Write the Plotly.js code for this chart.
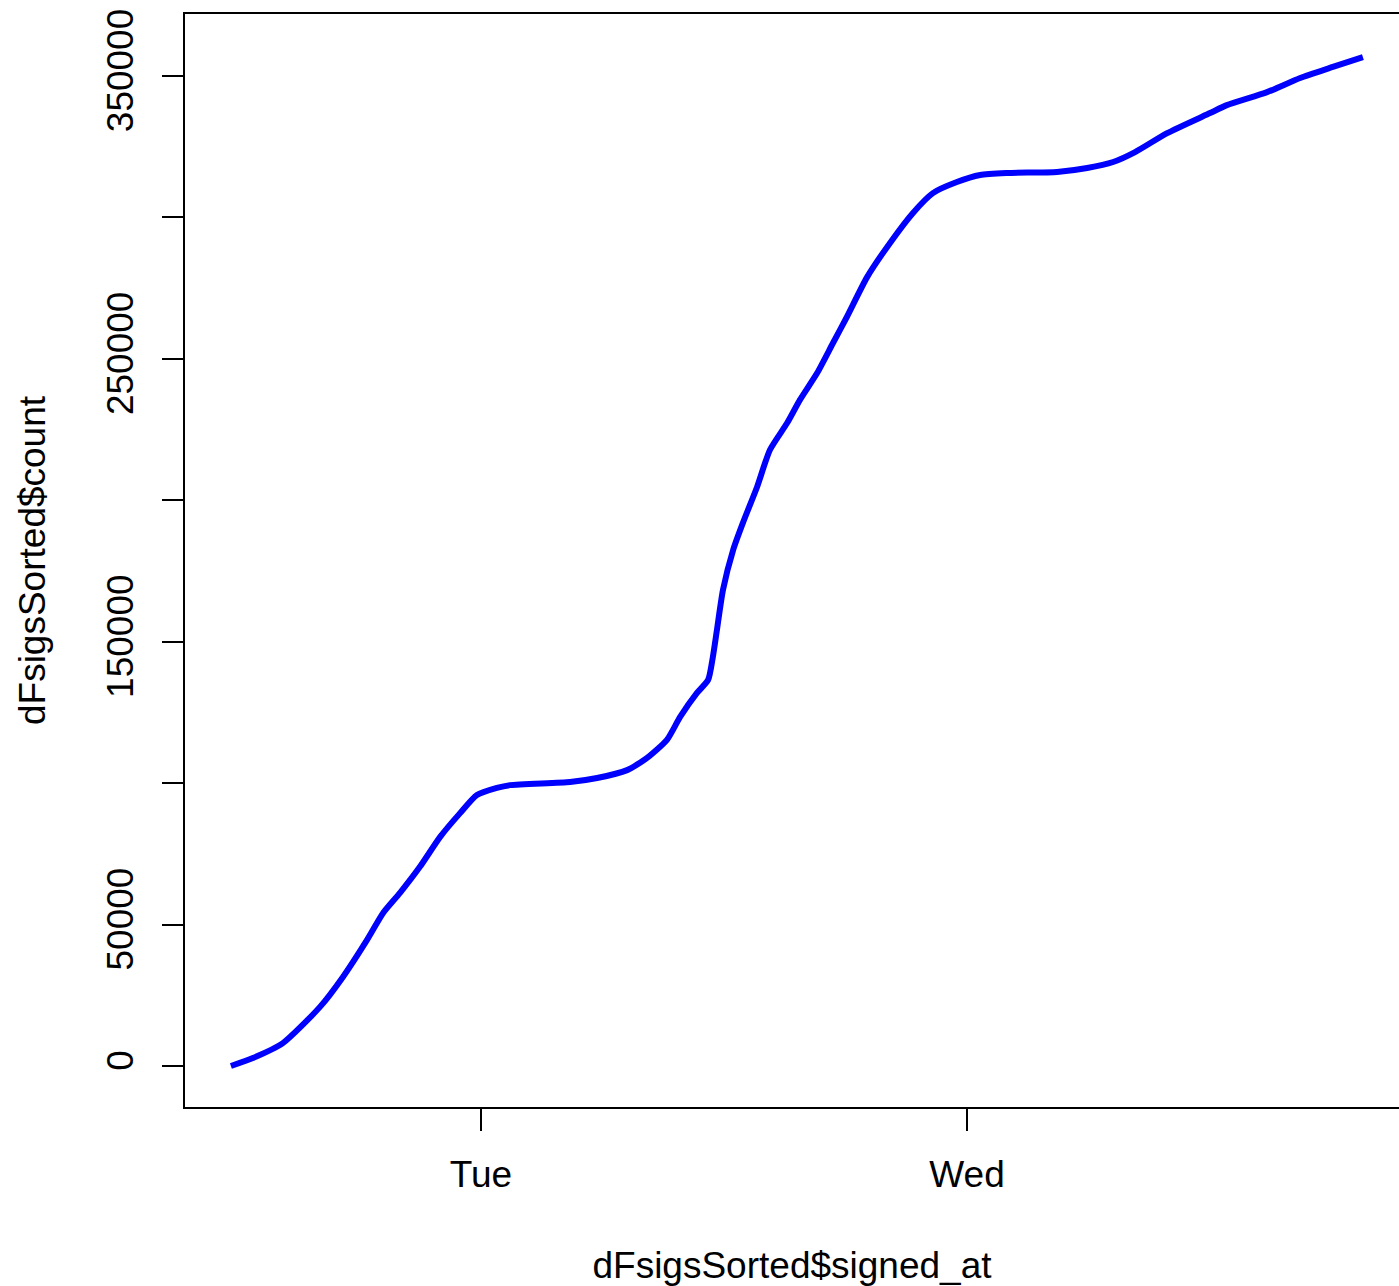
<!DOCTYPE html>
<html>
<head>
<meta charset="utf-8">
<script src="https://cdn.plot.ly/plotly-3.0.1.min.js"></script>
<style>html,body{margin:0;padding:0;background:#fff;}#chart{width:1399px;height:1286px;}</style>
</head>
<body>
<div id="chart"></div>
<script>
// signed_at timestamps (Mon -> Wed)
const signedAt = [
  '2016-06-27 11:39','2016-06-27 12:44','2016-06-27 14:13','2016-06-27 16:03','2016-06-27 17:11',
  '2016-06-27 18:22','2016-06-27 19:10','2016-06-27 20:00','2016-06-27 20:59','2016-06-27 21:59',
  '2016-06-27 22:58','2016-06-27 23:48','2016-06-28 00:47','2016-06-28 01:26','2016-06-28 04:24',
  '2016-06-28 05:44','2016-06-28 07:13','2016-06-28 08:12','2016-06-28 09:11','2016-06-28 09:50',
  '2016-06-28 10:40','2016-06-28 11:13','2016-06-28 11:27','2016-06-28 11:39','2016-06-28 11:57',
  '2016-06-28 12:27','2016-06-28 12:56','2016-06-28 13:38','2016-06-28 14:16','2016-06-28 15:07',
  '2016-06-28 15:45','2016-06-28 16:36','2016-06-28 17:23','2016-06-28 18:04','2016-06-28 19:04',
  '2016-06-28 20:12','2016-06-28 21:20','2016-06-28 22:19','2016-06-28 23:30','2016-06-29 00:39',
  '2016-06-29 01:59','2016-06-29 04:27','2016-06-29 05:56','2016-06-29 07:13','2016-06-29 08:18',
  '2016-06-29 09:53','2016-06-29 12:00','2016-06-29 12:50','2016-06-29 14:49','2016-06-29 16:27',
  '2016-06-29 18:04','2016-06-29 19:33'
];
// cumulative count
const counts = [
  0, 2800, 8100, 20900, 31500,
  44500, 54100, 61200, 70400, 81000,
  89400, 95800, 98300, 99300, 100400,
  101800, 104600, 108900, 115300, 123400,
  131900, 136500, 144600, 154100, 168300,
  182400, 192000, 204700, 217800, 227300,
  235500, 245000, 255600, 264800, 278900,
  291000, 301600, 308600, 312500, 315000,
  315700, 316100, 317500, 319600, 323100,
  329800, 336900, 339700, 344300, 349300,
  353200, 356700
];
const xTickVals = ['2016-06-28 00:00', '2016-06-29 00:00'];
const xTickText = ['Tue', 'Wed'];
const yTickVals = [0, 50000, 100000, 150000, 200000, 250000, 300000, 350000];
const yTickText = ['0', '50000', '', '150000', '', '250000', '', '350000'];

const fontFam = 'Liberation Sans, Arial, sans-serif';

const trace = {
  x: signedAt, y: counts, type: 'scatter', mode: 'lines',
  line: {color: '#0000ff', width: 6, shape: 'spline', smoothing: 0.6},
  hoverinfo: 'skip'
};

const layout = {
  width: 1399, height: 1286,
  margin: {l: 185, r: 0, t: 14, b: 179, pad: 0},
  paper_bgcolor: '#ffffff', plot_bgcolor: '#ffffff',
  showlegend: false,
  font: {family: fontFam, color: '#000', size: 37},
  xaxis: {
    type: 'date',
    range: ['2016-06-27 09:23', '2016-06-29 21:20'],
    tickmode: 'array', tickvals: xTickVals, ticktext: xTickText,
    ticks: 'outside', ticklen: 22, tickwidth: 2, tickcolor: '#000',
    ticklabelstandoff: 12,
    showline: true, linecolor: '#000', linewidth: 2, mirror: true,
    showgrid: false, zeroline: false,
    tickfont: {family: fontFam, size: 37, color: '#000'},
    title: {text: 'dFsigsSorted$signed_at', font: {family: fontFam, size: 37, color: '#000'}, standoff: 70},
    automargin: false, fixedrange: true
  },
  yaxis: {
    range: [-14495, 371920],
    tickmode: 'array', tickvals: yTickVals, ticktext: yTickText,
    tickangle: -90,
    ticks: 'outside', ticklen: 21, tickwidth: 2, tickcolor: '#000',
    ticklabelstandoff: 14,
    showline: true, linecolor: '#000', linewidth: 2, mirror: false,
    showgrid: false, zeroline: false,
    tickfont: {family: fontFam, size: 37, color: '#000'},
    title: {text: 'dFsigsSorted$count', font: {family: fontFam, size: 37, color: '#000'}, standoff: 43},
    automargin: false, fixedrange: true
  }
};

Plotly.newPlot('chart', [trace], layout, {displayModeBar: false, staticPlot: true});
</script>
</body>
</html>
